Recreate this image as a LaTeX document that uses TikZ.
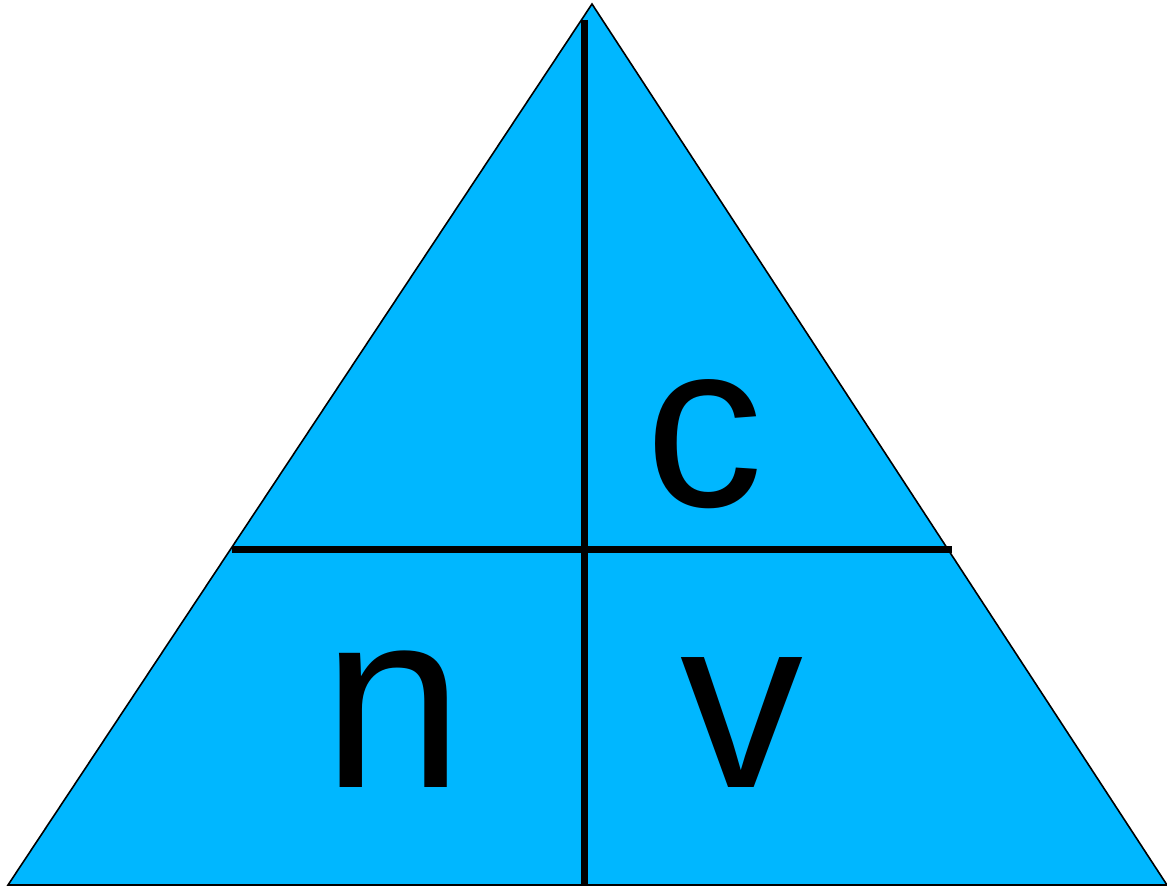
\documentclass[tikz,border=0pt]{standalone}
\usepackage{fontspec}
\setmainfont{Liberation Sans}
\definecolor{tri}{RGB}{0,183,255}
\begin{document}
\begin{tikzpicture}[x=1pt,y=-1pt,
  letter/.style={anchor=base,inner sep=0pt,font=\fontsize{254}{300}\selectfont},
  divider/.style={line width=7pt}]
\useasboundingbox (0,0) rectangle (1167,888);
\coordinate (apex) at (592,4);
\coordinate (bl) at (8,885);
\coordinate (br) at (1167,885);
\draw[fill=tri,line width=1.6pt] (apex) -- (bl) -- (br) -- cycle;
\coordinate (vt) at (584,20);
\coordinate (vb) at (584,885);
\coordinate (hl) at (232,549);
\coordinate (hr) at (952,549);
\draw[divider] (vt) -- (vb);
\draw[divider] (hl) -- (hr);
\node[letter,font=\fontsize{236}{280}\selectfont] (c) at (704,506) {c};
\node[letter] (n) at (393,787) {n};
\node[letter,font=\fontsize{246}{290}\selectfont] (v) at (742,787) {v};
\end{tikzpicture}
\end{document}
